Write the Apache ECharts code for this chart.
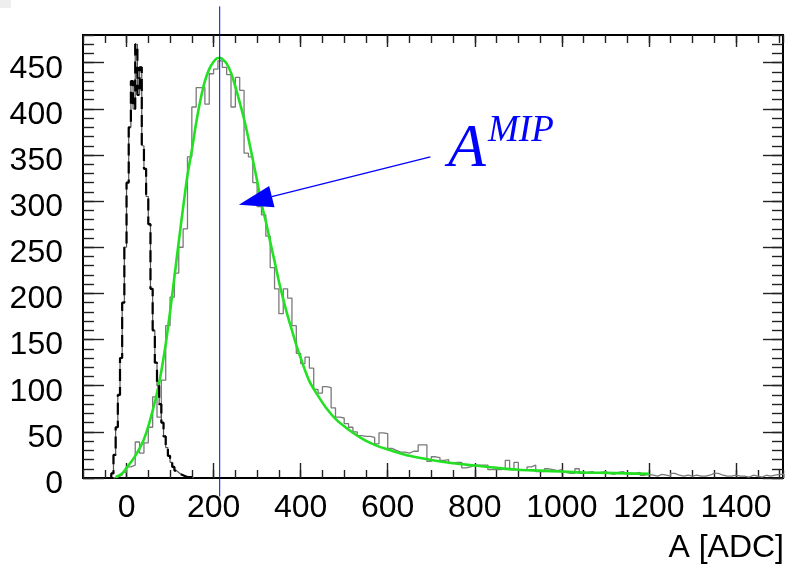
<!DOCTYPE html>
<html><head><meta charset="utf-8">
<script src="https://cdn.jsdelivr.net/npm/echarts@6/dist/echarts.min.js"></script>
<style>html,body{margin:0;padding:0;background:#fff}#c{width:786px;height:567px}</style>
</head><body><div id="c"></div>
<script>
// ---- data ----
const xTickLabels = [0, 200, 400, 600, 800, 1000, 1200, 1400];
const yTickLabels = [0, 50, 100, 150, 200, 250, 300, 350, 400, 450];
const xRange = [-100, 1508];
const yRange = [0, 480];

const pedestalStart = -40;
const pedestalBinWidth = 5;
const pedestalCounts = [0, 5, 25, 55, 90, 130, 190, 250, 320, 380, 430, 400, 470, 415, 445, 360, 335, 305, 275, 205,
  160, 125, 100, 80, 60, 45, 33, 24, 17, 12, 8, 6, 4, 3, 2, 1, 1, 1, 0];

const signalStart = -30;
const signalBinWidth = 10;
const signalCounts = [1, 3, 6, 12, 14, 39, 27, 38, 55, 88, 66, 106, 165, 196, 222, 250, 270, 348, 402, 423,
  423, 405, 438, 443, 452, 445, 437, 402, 434, 420, 352, 348, 320, 294, 285, 262, 228, 205, 178, 205,
  195, 165, 135, 124, 131, 119, 96, 92, 99, 98, 76, 66, 65, 59, 55, 50, 46, 45, 45, 44,
  37, 49, 48, 32, 30, 28, 28, 27, 29, 29, 36, 36, 18, 23, 22, 19, 20, 16, 17, 17,
  11, 12, 14, 14, 14, 14, 9, 9, 9, 10, 19, 9, 17, 9, 9, 12, 14, 7, 7, 10,
  9, 8, 9, 6, 5, 5, 10, 5, 6, 7, 5, 6, 7, 5, 4, 6, 7, 5, 4, 5,
  6, 3, 4, 3, 2, 4, 3, 2, 5, 3, 2, 3, 2, 3, 2, 2, 3, 5, 5, 3,
  2, 2, 3, 2, 2, 1, 3, 2, 1, 3, 2, 3, 4, 4];

const fitX = [-25, -10, 0, 10, 20, 30, 40, 50, 60, 70, 80, 90, 100, 110, 120, 130, 140, 150, 160, 170,
  180, 190, 200, 210, 215, 220, 230, 240, 250, 260, 270, 280, 290, 300, 310, 320, 330, 340, 350, 360,
  370, 380, 390, 400, 420, 440, 460, 480, 500, 520, 540, 560, 580, 600, 620, 650, 700, 750, 800, 850,
  900, 950, 1000, 1050, 1100, 1150, 1200];
const fitY = [1, 5, 11, 17, 24, 32, 42, 56, 73, 92, 116, 145, 180, 218, 256, 293, 328, 355, 385, 410,
  430, 443, 451, 455, 455, 454, 449, 439, 424, 407, 389, 368, 345, 322, 297, 278, 256, 235, 213, 194,
  176, 160, 144, 130, 105, 89, 75, 64, 56, 49, 43, 38, 34, 31, 28, 24, 19.5, 16, 13.5, 11,
  9, 8, 7, 6, 5.5, 5, 4.5];

const mipValue = 214;
const mipLineSpan = [511, -20];
const arrowFrom = [698, 348];
const arrowTo = [258, 296];

// ---- build ----
function stepData(start, w, counts) {
  const d = [[start, 0]];
  counts.forEach((c, i) => d.push([start + i * w, c]));
  const end = start + counts.length * w;
  d.push([end, counts[counts.length - 1]]);
  d.push([end, 0]);
  return d;
}

const chart = echarts.init(document.getElementById('c'), null, {renderer: 'canvas'});
const FONT = 'Liberation Sans';
const tickStyle = {color: '#222', width: 1.4};
const fmt = v => String(v);

function xAx(pos, opts) {
  return Object.assign({
    type: 'value', min: xRange[0], max: xRange[1], position: pos,
    axisLine: {show: false, onZero: false}, splitLine: {show: false},
    axisLabel: {show: false}
  }, opts);
}
function yAx(pos, opts) {
  return Object.assign({
    type: 'value', min: yRange[0], max: yRange[1], position: pos,
    axisLine: {show: false, onZero: false}, splitLine: {show: false},
    axisLabel: {show: false}
  }, opts);
}

const option = {
  animation: false,
  backgroundColor: '#fff',
  grid: {left: 83, right: 3, top: 35, bottom: 89, show: true, borderColor: '#000', borderWidth: 2, backgroundColor: 'transparent'},
  xAxis: [
    xAx('bottom', {interval: 50,
      axisTick: {inside: true, length: 8, lineStyle: tickStyle},
      axisLabel: {show: true, customValues: xTickLabels, formatter: fmt, fontSize: 32, fontFamily: FONT, color: '#000', margin: 14}}),
    xAx('bottom', {axisTick: {inside: true, length: 15, customValues: xTickLabels, lineStyle: tickStyle}}),
    xAx('top', {interval: 50, axisTick: {inside: true, length: 8, lineStyle: tickStyle}}),
    xAx('top', {axisTick: {inside: true, length: 12, customValues: xTickLabels, lineStyle: tickStyle}})
  ],
  yAxis: [
    yAx('left', {interval: 10,
      axisTick: {inside: true, length: 11, lineStyle: tickStyle},
      axisLabel: {show: true, customValues: yTickLabels, formatter: fmt, fontSize: 32, fontFamily: FONT, color: '#000', margin: 20,
        verticalAlign: 'top', lineHeight: 12}}),
    yAx('left', {axisTick: {inside: true, length: 21, customValues: yTickLabels, lineStyle: tickStyle}}),
    yAx('right', {interval: 10, axisTick: {inside: true, length: 11, lineStyle: tickStyle}}),
    yAx('right', {axisTick: {inside: true, length: 20, customValues: yTickLabels, lineStyle: tickStyle}})
  ],
  series: [
    {type: 'line', name: 'signal', step: 'end', symbol: 'none', xAxisIndex: 0, yAxisIndex: 0, z: 2,
      data: stepData(signalStart, signalBinWidth, signalCounts),
      lineStyle: {color: '#7a7a7a', width: 1.3}},
    {type: 'line', name: 'fit', smooth: 0.3, symbol: 'none', xAxisIndex: 0, yAxisIndex: 0, z: 3,
      data: fitX.map((x, i) => [x, fitY[i]]),
      lineStyle: {color: '#22e022', width: 2.6}},
    {type: 'line', name: 'pedestal', step: 'end', symbol: 'none', xAxisIndex: 0, yAxisIndex: 0, z: 4,
      data: stepData(pedestalStart, pedestalBinWidth, pedestalCounts),
      lineStyle: {color: '#555', width: 1.2}},
    {type: 'line', name: 'pedestal2', step: 'end', symbol: 'none', xAxisIndex: 0, yAxisIndex: 0, z: 5,
      data: stepData(pedestalStart, pedestalBinWidth, pedestalCounts),
      lineStyle: {color: '#000', width: 2.2, type: [12, 6]}}
  ]
};
chart.setOption(option);

const finder = {xAxisIndex: 0, yAxisIndex: 0};
const p = v => chart.convertToPixel(finder, v);
const lt = p([mipValue, mipLineSpan[0]]);
const lb = p([mipValue, mipLineSpan[1]]);
const a0 = p(arrowFrom);
const a1 = p(arrowTo);
const dx = a1[0] - a0[0], dy = a1[1] - a0[1];
const len = Math.sqrt(dx * dx + dy * dy);
const ux = dx / len, uy = dy / len;
const headLen = 34, headHalf = 11;
const bx = a1[0] - ux * headLen, by = a1[1] - uy * headLen;

chart.setOption({
  graphic: [
    {type: 'rect', shape: {x: 0, y: 0, width: 11, height: 8}, style: {fill: '#eeeeee'}, z: 1},
    {type: 'line', shape: {x1: lt[0], y1: lt[1], x2: lb[0], y2: lb[1]}, style: {stroke: '#0000ff', lineWidth: 1}, z: 100},
    {type: 'line', shape: {x1: a0[0], y1: a0[1], x2: bx, y2: by}, style: {stroke: '#0000ff', lineWidth: 1.3}, z: 100},
    {type: 'polygon', shape: {points: [[a1[0], a1[1]], [bx - uy * headHalf, by + ux * headHalf], [bx + uy * headHalf, by - ux * headHalf]]},
      style: {fill: '#0000ff'}, z: 100},
    {type: 'text', x: 448, y: 150, z: 100,
      style: {text: 'A', fontFamily: 'Liberation Serif', fontStyle: 'italic', fontSize: 62, fill: '#0000ff', align: 'left', verticalAlign: 'middle'}},
    {type: 'text', x: 488, y: 131, z: 100,
      style: {text: 'MIP', fontFamily: 'Liberation Serif', fontStyle: 'italic', fontSize: 37, fill: '#0000ff', align: 'left', verticalAlign: 'middle'}},
    {type: 'text', x: 784, y: 548, z: 100,
      style: {text: 'A [ADC]', fontFamily: FONT, fontSize: 32, fill: '#000', align: 'right', verticalAlign: 'middle'}}
  ]
});
</script>
</body></html>
